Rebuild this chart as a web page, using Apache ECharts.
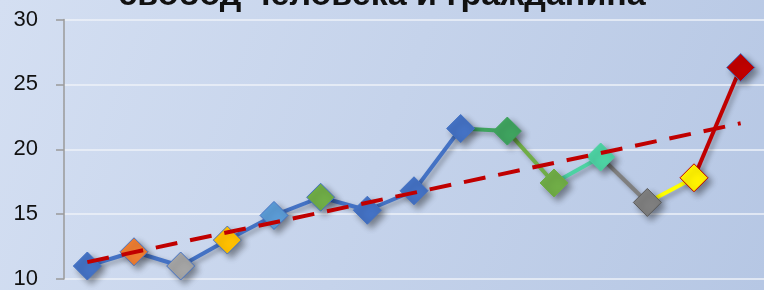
<!DOCTYPE html>
<html>
<head>
<meta charset="utf-8">
<script src="https://cdn.jsdelivr.net/npm/echarts@6/dist/echarts.min.js"></script>
<style>
  html, body { margin: 0; padding: 0; }
  #chart { width: 764px; height: 290px; }
</style>
</head>
<body>
<div id="chart"></div>
<script>
const titleText = 'свобод человека и гражданина';
const categories = ['1', '2', '3', '4', '5', '6', '7', '8', '9', '10', '11', '12', '13', '14', '15'];
const values = [11.0, 12.1, 11.0, 13.0, 14.9, 16.3, 15.3, 16.8, 21.6, 21.4, 17.4, 19.4, 15.9, 17.8, 26.3];
const markerColors = ['#4472C4', '#ED7D31', '#A5A5A5', '#FFC000', '#5B9BD5', '#70AD47', '#4472C4', '#4472C4',
    '#4472C4', '#3FA35F', '#70AD47', '#4DD2A3', '#7F7F7F', '#FFF200', '#C00000'];
const markerBorders = ['#4472C4', '#4472C4', '#4472C4', '#4472C4', '#4472C4', '#4472C4', '#4472C4', '#4472C4',
    '#4472C4', '#3FA35F', '#70AD47', '#4DD2A3', '#595959', '#C00000', '#4472C4'];
// colour of the segment that ends at this point (blue where not listed)
const segmentColors = [null, null, null, null, null, null, null, null, null,
    '#3FA35F', '#70AD47', '#4DD2A3', '#7F7F7F', '#FFFF00', '#C00000'];
const trendPoints = [[0, 11.3], [14, 22.0]];
const yTicks = [10, 30, 5];

const chart = echarts.init(document.getElementById('chart'));

const lineShadow = {
    shadowColor: 'rgba(0,0,0,0.3)',
    shadowBlur: 5,
    shadowOffsetX: 3,
    shadowOffsetY: 3
};

// blue part of the line: up to the last point without a segment colour
const lastBlue = segmentColors.findIndex(c => c) - 1;
const blueData = values.map((v, i) => (i <= lastBlue ? v : null));

const segmentSeries = [];
segmentColors.forEach((c, i) => {
    if (!c) return;
    segmentSeries.push({
        type: 'line',
        data: [[i - 1, values[i - 1]], [i, values[i]]],
        symbol: 'none',
        lineStyle: Object.assign({ color: c, width: 4 }, lineShadow),
        animation: false,
        z: 2
    });
});

const pointData = values.map((v, i) => ({
    value: v,
    itemStyle: {
        color: markerColors[i],
        borderColor: markerBorders[i],
        borderWidth: 1
    }
}));

chart.setOption({
    backgroundColor: {
        type: 'linear', x: 0, y: 0, x2: 1, y2: 1,
        colorStops: [
            { offset: 0, color: '#D4DFF2' },
            { offset: 1, color: '#B6C7E4' }
        ]
    },
    title: {
        text: titleText,
        left: 'center',
        top: -26,
        textStyle: {
            fontFamily: 'Liberation Sans',
            fontWeight: 'bold',
            fontSize: 34,
            color: '#111'
        }
    },
    grid: { left: 64, right: -2, top: 19.5, bottom: 10 },
    xAxis: {
        type: 'category',
        data: categories,
        axisLine: { show: false },
        axisTick: { show: false },
        axisLabel: { show: false }
    },
    yAxis: {
        type: 'value',
        min: yTicks[0],
        max: yTicks[1],
        interval: yTicks[2],
        axisLine: { show: true, lineStyle: { color: '#9A9A9A', width: 1.5 } },
        axisTick: { show: true, length: 8, lineStyle: { color: '#9A9A9A', width: 1.5 } },
        axisLabel: {
            margin: 26,
            fontFamily: 'Liberation Sans',
            fontSize: 22,
            color: '#111'
        },
        splitLine: { lineStyle: { color: '#EEF2F9', width: 1.5 } }
    },
    series: [{
        type: 'line',
        data: blueData,
        symbol: 'none',
        lineStyle: Object.assign({ color: '#4472C4', width: 4 }, lineShadow),
        animation: false,
        z: 2
    }].concat(segmentSeries, [{
        type: 'line',
        data: pointData,
        symbol: 'diamond',
        symbolSize: 28,
        lineStyle: { width: 0 },
        itemStyle: {
            shadowColor: 'rgba(0,0,0,0.4)',
            shadowBlur: 6,
            shadowOffsetX: 4,
            shadowOffsetY: 4
        },
        animation: false,
        z: 3
    }, {
        type: 'line',
        data: trendPoints,
        symbol: 'none',
        lineStyle: {
            color: '#C00000',
            width: 4,
            type: [22, 13]
        },
        animation: false,
        z: 4
    }])
});
</script>
</body>
</html>
